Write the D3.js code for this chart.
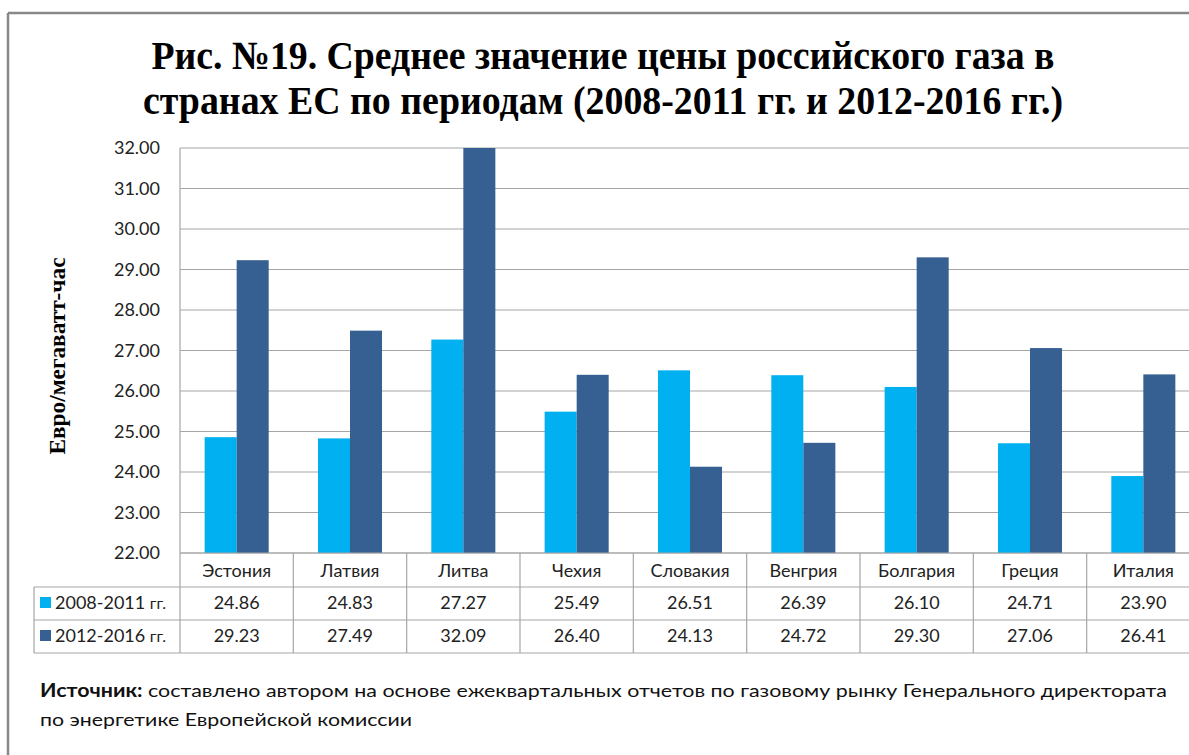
<!doctype html>
<html>
  <head>
    <meta charset="utf-8" />
    <title>Рис. №19</title>
    <style>
      body { margin: 0; background: #fff; }
      svg { display: block; font-family: Lato, "Open Sans", sans-serif; }
    </style>
  </head>
  <body>
    <svg id="chart" width="1189" height="755"></svg>
    <script src="https://d3js.org/d3.v7.min.js"></script>
    <script>
      // data
      const countries = ['Эстония', 'Латвия', 'Литва', 'Чехия', 'Словакия', 'Венгрия', 'Болгария', 'Греция', 'Италия'];
      const seriesNames = ['2008-2011', '2012-2016'];
      const prices2008 = [24.86, 24.83, 27.27, 25.49, 26.51, 26.39, 26.10, 24.71, 23.90];
      const prices2012 = [29.23, 27.49, 32.09, 26.40, 24.13, 24.72, 29.30, 27.06, 26.41];
      const yTicks = [22, 23, 24, 25, 26, 27, 28, 29, 30, 31, 32];
      const colors = ['#00b0f0', '#366092'];
      const seriesValues = [prices2008, prices2012];

      const svg = d3.select('#chart');
      const plotLeft = 180, plotRight = 1200, plotTop = 148, plotBottom = 553;
      const rowY = [553, 587, 620, 653];
      const gridColor = '#a6a6a6';

      // outer frame (only top and left are visible)
      svg.append('line').attr('x1', 8).attr('x2', 1189).attr('y1', 13).attr('y2', 13)
        .attr('stroke', '#888').attr('stroke-width', 2.5);
      svg.append('line').attr('x1', 8).attr('x2', 8).attr('y1', 13).attr('y2', 755)
        .attr('stroke', '#888').attr('stroke-width', 2.5);

      // title
      const titleLines = [
        'Рис. №19. Среднее значение цены российского газа в',
        'странах ЕС по периодам (2008-2011 гг. и 2012-2016 гг.)',
      ];
      const titleWidths = [903, 920];
      svg.append('g').selectAll('text').data(titleLines).join('text')
        .attr('x', 603).attr('y', (d, i) => 69 + i * 45)
        .attr('text-anchor', 'middle')
        .style('font-family', '"Liberation Serif", "DejaVu Serif", serif')
        .style('font-weight', 'bold')
        .style('font-size', '40px')
        .attr('textLength', (d, i) => titleWidths[i]).attr('lengthAdjust', 'spacingAndGlyphs')
        .attr('fill', '#000')
        .text((d) => d);

      const y = d3.scaleLinear().domain([22, 32]).range([plotBottom, plotTop]);
      const x0 = d3.scaleBand().domain(countries).range([plotLeft, plotRight]);
      const x1 = d3.scaleBand().domain(seriesNames).range([0, x0.bandwidth()])
        .paddingInner(0).paddingOuter(0.77);

      // gridlines
      svg.append('g').selectAll('line').data(yTicks).join('line')
        .attr('x1', plotLeft).attr('x2', plotRight)
        .attr('y1', (d) => y(d)).attr('y2', (d) => y(d))
        .attr('stroke', gridColor).attr('stroke-width', 1.2);

      // y axis labels
      svg.append('g').selectAll('text').data(yTicks).join('text')
        .attr('x', 160).attr('y', (d) => y(d) + 6)
        .attr('text-anchor', 'end')
        .style('font-size', '18px').attr('fill', '#222')
        .text((d) => d3.format('.2f')(d));
      svg.append('line').attr('x1', plotLeft).attr('x2', plotLeft).attr('y1', plotTop).attr('y2', plotBottom)
        .attr('stroke', gridColor).attr('stroke-width', 1.2);

      // y axis title
      svg.append('text')
        .attr('transform', 'translate(65,356) rotate(-90)')
        .attr('text-anchor', 'middle')
        .style('font-family', '"Liberation Serif", serif')
        .style('font-weight', 'bold').style('font-size', '23px')
        .attr('textLength', 197).attr('lengthAdjust', 'spacingAndGlyphs')
        .text('Евро/мегаватт-час');

      // bars
      seriesNames.forEach((s, i) => {
        svg.append('g').selectAll('rect').data(seriesValues[i]).join('rect')
          .attr('x', (d, j) => x0(countries[j]) + x1(s))
          .attr('width', x1.bandwidth())
          .attr('y', (d) => y(Math.min(d, 32)))
          .attr('height', (d) => y(22) - y(Math.min(d, 32)))
          .attr('fill', colors[i]);
      });

      // data table
      const table = svg.append('g').attr('stroke', gridColor).attr('stroke-width', 1.2);
      table.append('line').attr('x1', plotLeft).attr('x2', plotRight).attr('y1', rowY[0]).attr('y2', rowY[0]);
      rowY.slice(1).forEach((ry) => {
        table.append('line').attr('x1', 34).attr('x2', plotRight).attr('y1', ry).attr('y2', ry);
      });
      table.append('line').attr('x1', 34).attr('x2', 34).attr('y1', rowY[1]).attr('y2', rowY[3]);
      countries.forEach((c) => {
        table.append('line').attr('x1', x0(c)).attr('x2', x0(c)).attr('y1', rowY[0]).attr('y2', rowY[3]);
      });

      svg.append('g').selectAll('text').data(countries).join('text')
        .attr('x', (d) => x0(d) + x0.bandwidth() / 2).attr('y', rowY[0] + 24)
        .attr('text-anchor', 'middle').style('font-size', '18px').attr('fill', '#222')
        .text((d) => d);

      seriesNames.forEach((s, i) => {
        const ry = rowY[i + 1];
        svg.append('rect').attr('x', 40).attr('y', ry + 10).attr('width', 11).attr('height', 11)
          .attr('fill', colors[i]);
        const lt = svg.append('text').attr('x', 55).attr('y', ry + 22)
          .style('font-size', '18px').attr('fill', '#222');
        lt.append('tspan').text(s + ' ');
        lt.append('tspan').style('font-size', '16px').text('гг.');
        svg.append('g').selectAll('text').data(seriesValues[i]).join('text')
          .attr('x', (d, j) => x0(countries[j]) + x0.bandwidth() / 2).attr('y', ry + 22)
          .attr('text-anchor', 'middle').style('font-size', '18px').attr('fill', '#222')
          .text((d) => d3.format('.2f')(d));
      });

      // source note
      const note = svg.append('text').attr('x', 40).attr('y', 697)
        .style('font-size', '18px').attr('fill', '#111')
        .attr('textLength', 1127).attr('lengthAdjust', 'spacingAndGlyphs');
      note.append('tspan').style('font-weight', 'bold').text('Источник:');
      note.append('tspan').text(' составлено автором на основе ежеквартальных отчетов по газовому рынку Генерального директората');
      svg.append('text').attr('x', 40).attr('y', 726)
        .style('font-size', '18px').attr('fill', '#111')
        .attr('textLength', 372).attr('lengthAdjust', 'spacingAndGlyphs')
        .text('по энергетике Европейской комиссии');
    </script>
  </body>
</html>
